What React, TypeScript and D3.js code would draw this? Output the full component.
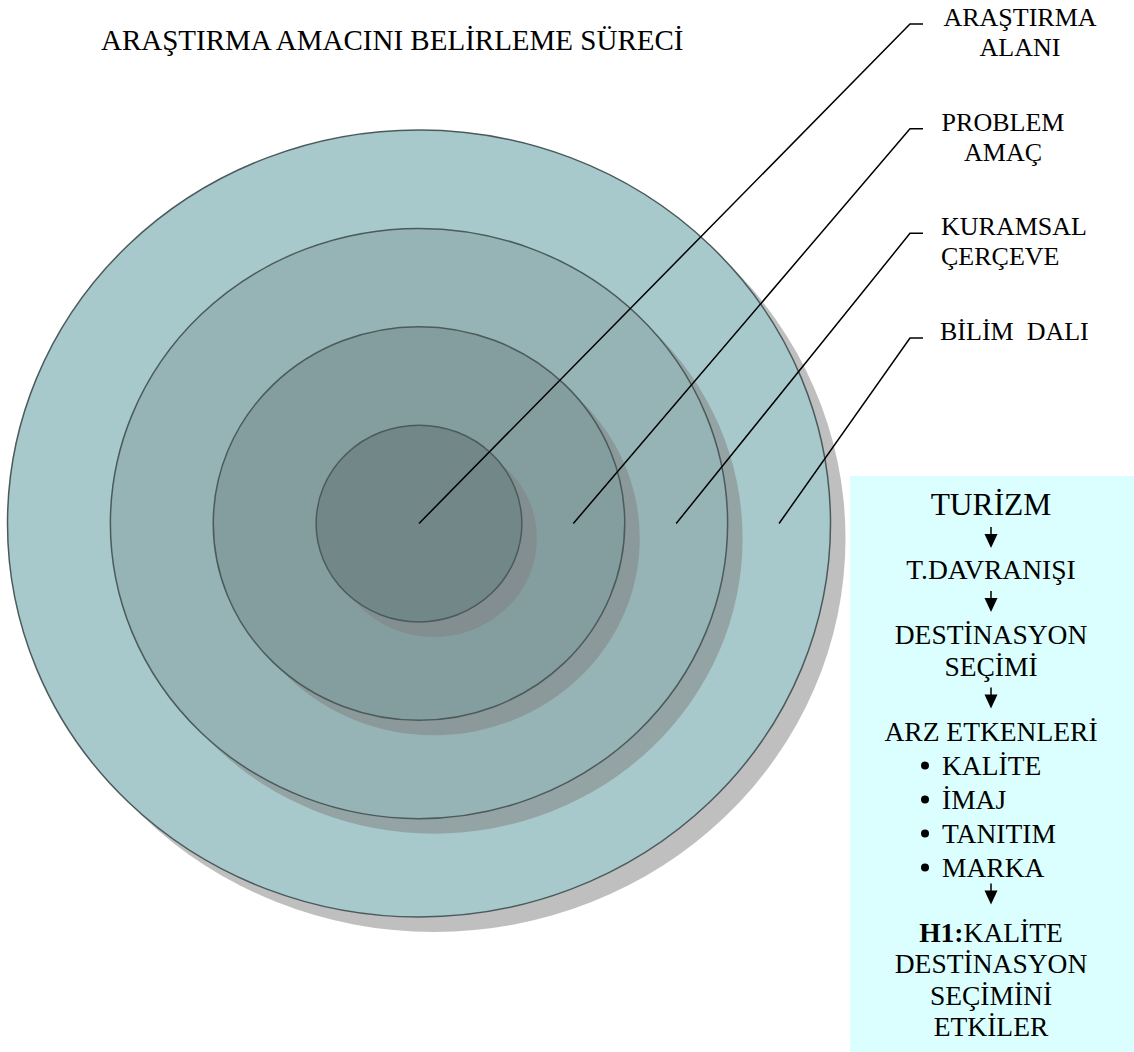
import { line, scaleLinear, scalePoint } from 'd3';

// leader labels, innermost ring first
const levelLabels: string[][] = [
  ['ARAŞTIRMA', 'ALANI'],
  ['PROBLEM', 'AMAÇ'],
  ['KURAMSAL', 'ÇERÇEVE'],
  ['BİLİM  DALI'],
];

const flowSteps: string[][] = [
  ['TURİZM'],
  ['T.DAVRANIŞI'],
  ['DESTİNASYON', 'SEÇİMİ'],
  ['ARZ ETKENLERİ'],
];

const supplyFactors: string[] = ['KALİTE', 'İMAJ', 'TANITIM', 'MARKA'];

const hypothesisTag = 'H1:';
const hypothesisLines: string[] = ['KALİTE', 'DESTİNASYON', 'SEÇİMİNİ', 'ETKİLER'];

const title = 'ARAŞTIRMA AMACINI BELİRLEME SÜRECİ';

const ringFills = ['#718788', '#849d9f', '#96b3b5', '#a8c9cb'];
const FONT = '"Liberation Serif", "Times New Roman", serif';

const W = 1134;
const H = 1052;
const cx = 419;
const cy = 523.5;
const shadow = 15;

const rx = scaleLinear().domain([0, 4]).range([0, 411.5]);
const ry = scaleLinear().domain([0, 4]).range([0, 393.5]);

const labelY = scalePoint<number>()
  .domain(levelLabels.map((_, i) => i))
  .range([24, 338]);

const labelPos = [
  { x: 1020, anchor: 'middle' },
  { x: 1003, anchor: 'middle' },
  { x: 941, anchor: 'start' },
  { x: 940, anchor: 'start' },
];

const leader = line<[number, number]>();

const Arrow = ({ x, y }: { x: number; y: number }) => (
  <g>
    <line x1={x} x2={x} y1={y} y2={y + 9} stroke="#000" strokeWidth={1.5} />
    <path d={`M${x - 6.5},${y + 7} L${x + 6.5},${y + 7} L${x},${y + 21} Z`} fill="#000" />
  </g>
);

const Panel = () => {
  const px = 850;
  const py = 476;
  const mid = 991;
  const fs = 27.5;
  const lineStep = 31.5;
  const arrowStep = 65;
  const bulletStep = 34;
  const nodes: JSX.Element[] = [];
  let y = 515;

  flowSteps.forEach((step, i) => {
    if (i > 0) {
      nodes.push(<Arrow key={`a${i}`} x={mid} y={y + 12} />);
      y += i === 1 ? 64 : arrowStep;
    }
    step.forEach((t, j) => {
      if (j > 0) y += lineStep;
      nodes.push(
        <text key={`s${i}-${j}`} x={mid} y={y} textAnchor="middle" fontSize={i === 0 ? 31.5 : fs}>
          {t}
        </text>,
      );
    });
  });

  supplyFactors.forEach((f, i) => {
    y += bulletStep;
    nodes.push(
      <g key={`b${i}`}>
        <circle cx={925} cy={y - 9} r={4} fill="#000" />
        <text x={942} y={y} fontSize={fs}>
          {f}
        </text>
      </g>,
    );
  });

  nodes.push(<Arrow key="a-last" x={mid} y={y + 7} />);
  y += arrowStep;

  hypothesisLines.forEach((t, i) => {
    if (i > 0) y += lineStep;
    nodes.push(
      <text key={`h${i}`} x={mid} y={y} textAnchor="middle" fontSize={fs}>
        {i === 0 && <tspan fontWeight="bold">{hypothesisTag}</tspan>}
        {t}
      </text>,
    );
  });

  return (
    <g>
      <rect x={px} y={py} width={W - px} height={H - py} fill="#dbffff" />
      {nodes}
    </g>
  );
};

export default function App() {
  const rings = ringFills.map((fill, k) => ({ k, fill })).reverse();

  return (
    <svg
      width={W}
      height={H}
      style={{ position: 'absolute', left: 0, top: 0, background: '#fff' }}
      fontFamily={FONT}
    >
      <text x={101} y={50} fontSize={29} fill="#000">
        {title}
      </text>

      {rings.map(({ k, fill }) => (
        <g key={`ring-${k}`}>
          <ellipse
            cx={cx + shadow}
            cy={cy + shadow}
            rx={rx(k + 1)}
            ry={ry(k + 1)}
            fill="#808080"
            opacity={0.5}
          />
          <ellipse
            cx={cx}
            cy={cy}
            rx={rx(k + 1)}
            ry={ry(k + 1)}
            fill={fill}
            stroke="#4b5b5c"
            strokeWidth={1.5}
          />
        </g>
      ))}

      {levelLabels.map((lines, k) => {
        const yc = labelY(k) ?? 0;
        const sx = k === 0 ? cx : cx + rx(k + 0.5);
        const d = leader([
          [sx, cy],
          [910, yc],
          [923, yc],
        ]);
        const pos = labelPos[k];
        return (
          <g key={`label-${k}`}>
            <path d={d ?? ''} fill="none" stroke="#000" strokeWidth={1.5} />
            {lines.map((t, j) => (
              <text
                key={j}
                x={pos.x}
                y={yc + 2 + j * 30}
                textAnchor={pos.anchor}
                fontSize={26}
                style={{ whiteSpace: 'pre' }}
              >
                {t}
              </text>
            ))}
          </g>
        );
      })}

      <Panel />
    </svg>
  );
}
